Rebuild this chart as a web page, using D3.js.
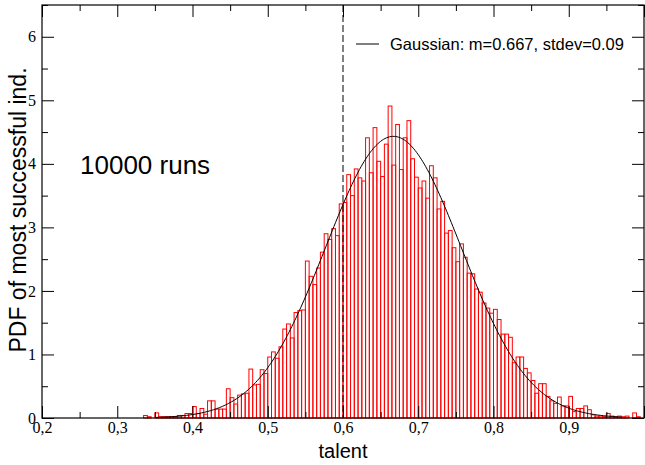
<!DOCTYPE html>
<html>
<head>
<meta charset="utf-8">
<script src="https://cdn.jsdelivr.net/npm/d3@7"></script>
<style>
  body { margin: 0; background: #fff; }
  .tick text { font-family: "Liberation Serif", "Times New Roman", serif; font-size: 16px; fill: #000; }
</style>
</head>
<body>
<div id="chart"></div>
<script>
// histogram of talent of most successful individual, bin width 0.005
const binStart = 0.335;
const binWidth = 0.005;
const pdfValues = [
  0.04, 0.02, 0.00, 0.08, 0.02, 0.02, 0.02, 0.02, 0.02, 0.04, // 0.335 - 0.38
  0.04, 0.07, 0.07, 0.18, 0.07, 0.15, 0.06, 0.27, 0.27, 0.14, // 0.385 - 0.43
  0.14, 0.14, 0.46, 0.32, 0.22, 0.36, 0.38, 0.39, 0.77, 0.52, // 0.435 - 0.48
  0.53, 0.76, 0.70, 0.96, 1.04, 0.94, 1.12, 1.40, 1.48, 1.26, // 0.485 - 0.53
  1.66, 1.69, 1.70, 2.47, 2.23, 2.10, 2.36, 2.61, 2.90, 2.81, // 0.535 - 0.58
  2.98, 2.87, 3.37, 3.39, 3.83, 3.50, 3.92, 3.78, 3.73, 4.41, // 0.585 - 0.63
  3.86, 4.57, 4.04, 3.80, 4.31, 4.91, 3.98, 4.62, 3.91, 4.41, // 0.635 - 0.68
  4.68, 4.08, 3.79, 3.62, 3.73, 3.46, 3.97, 3.78, 3.29, 3.41, // 0.685 - 0.73
  2.91, 2.95, 2.68, 2.46, 2.74, 2.53, 2.28, 2.27, 2.03, 1.98, // 0.735 - 0.78
  1.81, 1.73, 1.65, 1.71, 1.55, 1.32, 1.32, 1.27, 0.87, 0.96, // 0.785 - 0.83
  0.96, 0.78, 0.71, 0.59, 0.39, 0.54, 0.54, 0.34, 0.27, 0.23, // 0.835 - 0.88
  0.33, 0.19, 0.19, 0.34, 0.10, 0.15, 0.15, 0.19, 0.13, 0.05, // 0.885 - 0.93
  0.03, 0.03, 0.02, 0.07, 0.03, 0.02, 0.03, 0.02, 0.03, 0.00, // 0.935 - 0.98
  0.08, 0.02                                                  // 0.985 - 0.99
];

// fitted gaussian from the legend
const gaussMean = 0.667;
const gaussSd = 0.09;
const gaussRange = [0.35, 0.97];

const xMajorTicks = [0.2, 0.3, 0.4, 0.5, 0.6, 0.7, 0.8, 0.9, 1.0];
const xMinorTicks = [0.25, 0.35, 0.45, 0.55, 0.65, 0.75, 0.85, 0.95];
const xLabelled = [0.2, 0.3, 0.4, 0.5, 0.6, 0.7, 0.8, 0.9];
const yMajorTicks = [0, 1, 2, 3, 4, 5, 6];
const yMinorTicks = [0.5, 1.5, 2.5, 3.5, 4.5, 5.5, 6.5];
const markerLine = 0.6;

const width = 645, height = 465;
const plot = { left: 42, right: 644, top: 5, bottom: 418 };

const svg = d3.select("#chart").append("svg")
  .attr("width", width)
  .attr("height", height);

const x = d3.scaleLinear().domain([0.2, 1.0]).range([plot.left, plot.right]);
const y = d3.scaleLinear().domain([0, 6.5]).range([plot.bottom, plot.top]);

const bins = pdfValues.map((v, i) => ({ x0: binStart + i * binWidth, v: v }));

// histogram bars (outline only)
svg.append("g")
  .selectAll("rect")
  .data(bins)
  .join("rect")
  .attr("x", d => x(d.x0))
  .attr("y", d => y(d.v))
  .attr("width", d => x(d.x0 + binWidth) - x(d.x0))
  .attr("height", d => y(0) - y(d.v))
  .attr("fill", "none")
  .attr("stroke", "#ff0000")
  .attr("stroke-width", 1);

// gaussian curve
const gauss = t => Math.exp(-0.5 * Math.pow((t - gaussMean) / gaussSd, 2)) / (gaussSd * Math.sqrt(2 * Math.PI));
const curvePts = d3.range(gaussRange[0], gaussRange[1] + 1e-9, 0.002).map(t => [t, gauss(t)]);
svg.append("path")
  .datum(curvePts)
  .attr("fill", "none")
  .attr("stroke", "#000")
  .attr("stroke-width", 1)
  .attr("d", d3.line().x(d => x(d[0])).y(d => y(d[1])));

// dashed marker at 0.6
svg.append("line")
  .attr("x1", x(markerLine)).attr("x2", x(markerLine))
  .attr("y1", plot.top).attr("y2", plot.bottom)
  .attr("stroke", "#000")
  .attr("stroke-width", 1)
  .attr("stroke-dasharray", "7,3");

// axes with inward ticks on all four sides
const fmt = d => xLabelled.includes(d) ? d.toFixed(1).replace(".", ",") : "";

function styleAxis(g) {
  g.select(".domain").remove();
  g.selectAll(".tick line").attr("stroke", "#000").attr("stroke-width", 1);
}

svg.append("g")
  .attr("transform", `translate(0,${plot.bottom})`)
  .call(d3.axisBottom(x).tickValues(xMajorTicks).tickFormat(fmt).tickSize(-12).tickPadding(4))
  .call(styleAxis);
svg.append("g")
  .attr("transform", `translate(0,${plot.bottom})`)
  .call(d3.axisBottom(x).tickValues(xMinorTicks).tickFormat("").tickSize(-6))
  .call(styleAxis);
svg.append("g")
  .attr("transform", `translate(0,${plot.top})`)
  .call(d3.axisTop(x).tickValues(xMajorTicks).tickFormat("").tickSize(-12))
  .call(styleAxis);
svg.append("g")
  .attr("transform", `translate(0,${plot.top})`)
  .call(d3.axisTop(x).tickValues(xMinorTicks).tickFormat("").tickSize(-6))
  .call(styleAxis);

svg.append("g")
  .attr("transform", `translate(${plot.left},0)`)
  .call(d3.axisLeft(y).tickValues(yMajorTicks).tickFormat(d3.format("d")).tickSize(-12).tickPadding(6))
  .call(styleAxis);
svg.append("g")
  .attr("transform", `translate(${plot.left},0)`)
  .call(d3.axisLeft(y).tickValues(yMinorTicks).tickFormat("").tickSize(-6))
  .call(styleAxis);
svg.append("g")
  .attr("transform", `translate(${plot.right},0)`)
  .call(d3.axisRight(y).tickValues(yMajorTicks).tickFormat("").tickSize(-12))
  .call(styleAxis);
svg.append("g")
  .attr("transform", `translate(${plot.right},0)`)
  .call(d3.axisRight(y).tickValues(yMinorTicks).tickFormat("").tickSize(-6))
  .call(styleAxis);

// frame
svg.append("rect")
  .attr("x", plot.left).attr("y", plot.top)
  .attr("width", plot.right - plot.left)
  .attr("height", plot.bottom - plot.top)
  .attr("fill", "none")
  .attr("stroke", "#000")
  .attr("stroke-width", 1.2);

// axis titles
svg.append("text")
  .attr("x", 343)
  .attr("y", 458)
  .attr("text-anchor", "middle")
  .attr("font-family", "Liberation Sans, Arial, sans-serif")
  .attr("font-size", "20px")
  .text("talent");

svg.append("text")
  .attr("transform", "translate(26,210) rotate(-90)")
  .attr("text-anchor", "middle")
  .attr("font-family", "Liberation Sans, Arial, sans-serif")
  .attr("font-size", "23px")
  .text("PDF of most successful ind.");

// annotation
svg.append("text")
  .attr("x", 80)
  .attr("y", 174)
  .attr("font-family", "Liberation Sans, Arial, sans-serif")
  .attr("font-size", "26px")
  .text("10000 runs");

// legend
svg.append("line")
  .attr("x1", 356).attr("x2", 379)
  .attr("y1", 44).attr("y2", 44)
  .attr("stroke", "#000")
  .attr("stroke-width", 1);
svg.append("text")
  .attr("x", 390)
  .attr("y", 44)
  .attr("dy", "0.35em")
  .attr("font-family", "Liberation Sans, Arial, sans-serif")
  .attr("font-size", "16.5px")
  .text(`Gaussian: m=${gaussMean}, stdev=${gaussSd}`);
</script>
</body>
</html>
